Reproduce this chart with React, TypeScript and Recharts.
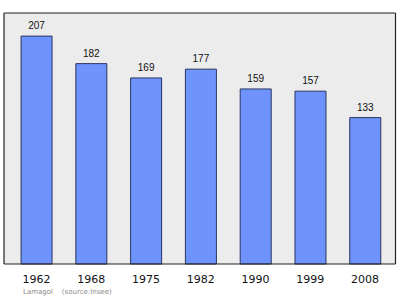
import React from "react";
import { BarChart, Bar, XAxis, YAxis, CartesianGrid, LabelList } from "recharts";

const years = ["1962", "1968", "1975", "1982", "1990", "1999", "2008"];
const population = [207, 182, 169, 177, 159, 157, 133];
const commune = "Lamagol";
const source = "(source:Insee)";

const data = years.map((year, i) => ({ year, population: population[i] }));

const frameLine = { stroke: "#222", strokeWidth: 1.2 };

export default function App() {
  return (
    <div style={{ position: "absolute", left: 0, top: 0, width: 400, height: 299, background: "#fff" }}>
      <BarChart
        width={400}
        height={299}
        data={data}
        margin={{ top: 12, right: 3.5, bottom: 0, left: 3 }}
        barCategoryGap="22%"
      >
        <CartesianGrid fill="#ececec" horizontal={false} vertical={false} />
        <XAxis
          dataKey="year"
          tickLine={false}
          axisLine={frameLine}
          tick={{ fill: "#111", fontSize: 11, fontFamily: "DejaVu Sans" }}
          tickMargin={5}
          padding={{ left: 5, right: 3 }}
          interval={0}
          height={35}
        />
        <XAxis
          xAxisId="top"
          orientation="top"
          dataKey="year"
          tick={false}
          tickLine={false}
          axisLine={frameLine}
          height={1}
        />
        <YAxis
          domain={[0, 228]}
          tick={false}
          tickLine={false}
          axisLine={frameLine}
          width={1}
        />
        <YAxis
          yAxisId="right"
          orientation="right"
          domain={[0, 228]}
          tick={false}
          tickLine={false}
          axisLine={frameLine}
          width={1}
        />
        <Bar
          dataKey="population"
          fill="#6e93fd"
          stroke="#2a3560"
          strokeWidth={1}
          isAnimationActive={false}
        >
          <LabelList
            dataKey="population"
            position="top"
            offset={7}
            fill="#111"
            fontSize={10}
            fontFamily="Liberation Sans"
          />
        </Bar>
      </BarChart>
      <div
        style={{
          position: "absolute",
          left: 23,
          top: 288,
          fontFamily: "DejaVu Sans",
          fontSize: 7,
          color: "#8a8a8a",
          whiteSpace: "pre",
          lineHeight: "9px",
        }}
      >
        {commune + "    " + source}
      </div>
    </div>
  );
}
